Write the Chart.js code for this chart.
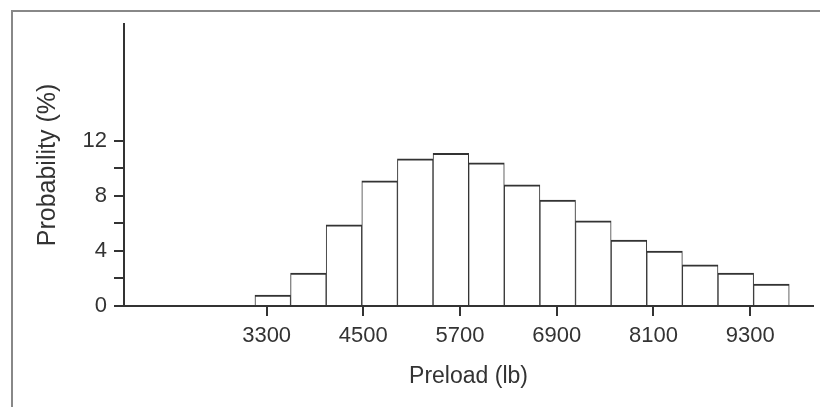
<!DOCTYPE html>
<html>
<head>
<meta charset="utf-8">
<script src="https://cdn.jsdelivr.net/npm/chart.js@4/dist/chart.umd.min.js"></script>
<style>
  html, body { margin: 0; padding: 0; background: #fff; }
  #wrap { position: relative; width: 820px; height: 407px; }
  #wrap::before {
    content: ''; position: absolute; left: 11px; top: 10px; right: -5px; bottom: -5px;
    border-left: 2px solid #888; border-top: 2px solid #888;
  }
  canvas { position: absolute; left: 0; top: 0; }
</style>
</head>
<body>
<div id="wrap"><canvas id="chart" width="820" height="407"></canvas></div>
<script>
// Середины интервалов гистограммы (lb) и вероятность (%)
const binCenters = [3376, 3818, 4260, 4702, 5144, 5586, 6028, 6470, 6912, 7354, 7796, 8238, 8680, 9122, 9564];
const probability = [0.8, 2.4, 5.9, 9.1, 10.7, 11.1, 10.4, 8.8, 7.7, 6.2, 4.8, 4.0, 3.0, 2.4, 1.6];

// Деления осей
const xTicks = [3300, 4500, 5700, 6900, 8100, 9300];
const yTicks = [0, 2, 4, 6, 8, 10, 12];
const yLabeled = [0, 4, 8, 12];

const ink = '#333';
const family = '"Liberation Sans", Arial, sans-serif';

const points = binCenters.map((x, i) => ({ x: x, y: probability[i] }));

new Chart(document.getElementById('chart').getContext('2d'), {
    type: 'bar',
    data: {
        datasets: [{
            data: points,
            backgroundColor: '#fff',
            borderColor: ink,
            borderWidth: { top: 2, left: 1, right: 1, bottom: 0 },
            borderSkipped: false,
            barPercentage: 1,
            categoryPercentage: 1,
            grouped: false
        }]
    },
    options: {
        responsive: false,
        animation: false,
        layout: { padding: { left: 0, top: 24, right: 7, bottom: 0 } },
        plugins: {
            legend: { display: false },
            tooltip: { enabled: false }
        },
        scales: {
            x: {
                type: 'linear',
                min: 1530,
                max: 10080,
                offset: false,
                afterBuildTicks: scale => { scale.ticks = xTicks.map(v => ({ value: v })); },
                afterFit: scale => { scale.height = 101; },
                border: { display: true, color: ink, width: 2 },
                grid: { offset: false, drawOnChartArea: false, drawTicks: true, tickLength: 10, color: ink, lineWidth: 2 },
                ticks: { color: ink, font: { family: family, size: 22 }, padding: 7, maxRotation: 0, callback: v => String(v) },
                title: { display: true, text: 'Preload (lb)', color: ink, font: { family: family, size: 23 }, padding: { top: 0, bottom: 17 } }
            },
            y: {
                min: 0,
                max: 20.5,
                afterBuildTicks: scale => { scale.ticks = yTicks.map(v => ({ value: v })); },
                afterFit: scale => { scale.width = 124; },
                border: { display: true, color: ink, width: 2 },
                grid: { offset: false, drawOnChartArea: false, drawTicks: true, tickLength: 10, color: ink, lineWidth: 2 },
                ticks: { color: ink, font: { family: family, size: 22 }, padding: 7, callback: v => yLabeled.includes(v) ? String(v) : '' },
                title: { display: true, text: 'Probability (%)', color: ink, font: { family: family, size: 25 }, padding: { top: 33, bottom: 0 } }
            }
        }
    }
});
</script>
</body>
</html>
